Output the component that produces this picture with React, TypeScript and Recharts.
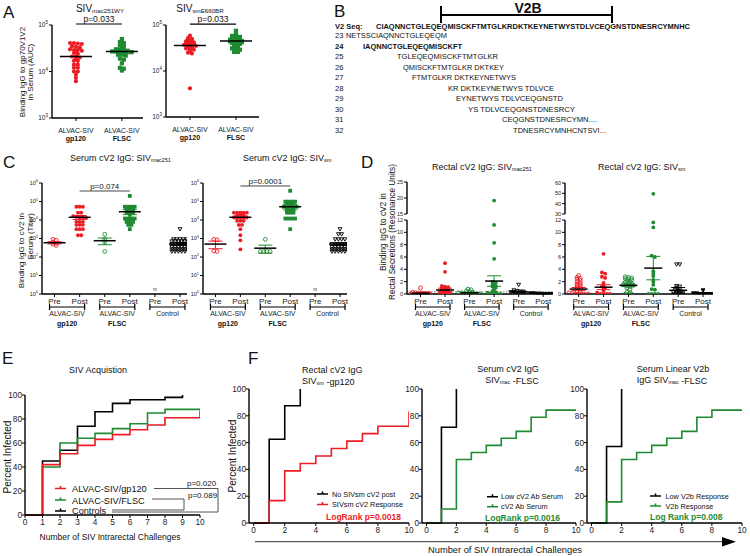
import React from 'react';
import { ScatterChart, Scatter, XAxis, YAxis, ErrorBar, ReferenceLine, LineChart, Line } from 'recharts';

const FONT = '"Liberation Sans", Arial, sans-serif';
const RED = '#ec1c24';
const GREEN = '#1f8a32';
const INK = '#111';

// ---- A: serum IgG to gp70V1V2 (AUC)
const aCategories = ['gp120', 'FLSC'];
const aMacGp120 = [41000, 41000, 40000, 39000, 35000, 34000, 33000, 30000, 29000, 29000, 28000, 27000, 25000, 24000, 21000, 21000, 20000, 19000, 17000, 17000, 14000, 14000, 12000, 12000, 10000, 10000, 8600, 7300, 6200];
const aMacFlsc = [50000, 43000, 41000, 36000, 34000, 33000, 30000, 29000, 29000, 28000, 27000, 27000, 27000, 26000, 26000, 26000, 25000, 25000, 23000, 23000, 22000, 19000, 18000, 15000, 12000, 11500, 10500];
const aMacMedians = [21000, 27000];
const aSmGp120 = [59000, 52000, 50000, 48000, 46000, 44000, 43000, 42000, 40000, 39000, 38000, 37000, 37000, 36000, 35000, 34000, 33000, 31000, 30000, 29000, 27000, 25000, 24000, 4200];
const aSmFlsc = [75000, 64000, 58000, 56000, 55000, 52000, 50000, 49000, 48000, 46000, 45000, 45000, 44000, 44000, 43000, 42000, 41000, 40000, 39000, 37000, 35000, 34000, 31000, 30000, 29000, 26000, 26000];
const aSmMedians = [36000, 45000];

// ---- C / D shared category labels
const prePost = ['Pre', 'Post', 'Pre', 'Post', 'Pre', 'Post'];
const vaccineTop = ['ALVAC-SIV', 'ALVAC-SIV', 'Control'];
const vaccineSub = ['gp120', 'FLSC', ''];

// ---- C: serum cV2 titers
const cMacGp120Pre = [900, 800, 650, 550, 500, 420];
const cMacGp120Post = [52000, 52000, 52000, 25000, 25000, 16000, 15000, 14000, 14000, 13000, 8000, 8000, 8000, 5500, 5500, 5500, 3200, 3200, 3200, 1500, 1500];
const cMacFlscPre = [1700, 950, 620, 200];
const cMacFlscPost = [200000, 52000, 52000, 52000, 52000, 35000, 35000, 35000, 25000, 25000, 25000, 19000, 12000, 12000, 12000, 12000, 8000, 8000, 8000, 5500, 5500, 3200];
const cMacCtrlPost = [3200, 900, 900, 900, 900, 900, 700, 700, 700, 700, 700, 700, 500, 500, 500, 500, 500, 500, 350, 350, 350, 350, 350, 350, 260, 260, 260, 260, 260, 260, 200, 200, 200, 200, 200, 200];
const cMacMeans = [590, 14000, 760, 28000, 0, 500];
const cMacSem = [80, 3500, 300, 8500, 0, 60];

const cSmGp120Pre = [900, 850, 210, 200];
const cSmGp120Post = [25000, 25000, 25000, 25000, 25000, 18000, 18000, 18000, 14000, 14000, 14000, 14000, 14000, 9000, 9000, 9000, 5400, 5400, 3200, 1500, 800, 260];
const cSmFlscPre = [900, 200, 200, 200, 200];
const cSmFlscPost = [380000, 98000, 98000, 98000, 98000, 73000, 73000, 73000, 52000, 52000, 52000, 52000, 52000, 35000, 35000, 35000, 25000, 25000, 25000, 12000, 12000, 12000, 12000, 3200];
const cSmCtrlPost = [3200, 1700, 1700, 900, 900, 900, 900, 500, 500, 500, 500, 500, 500, 350, 350, 350, 350, 350, 350, 260, 260, 260, 260, 260, 260, 200, 200, 200, 200, 200, 200];
const cSmMeans = [500, 14000, 300, 52000, 0, 500];
const cSmSem = [220, 2500, 140, 17000, 0, 60];

// ---- D: rectal cV2 (resonance units)
const dMacGp120Pre = [1.0, 0.3, 0.2, 0.2, 0.15, 0.1, 0.1, 0.05, 0.05, 0, 0, 0, 0, 0];
const dMacGp120Post = [5.0, 3.6, 1.3, 1.2, 1.1, 1.0, 0.9, 0.8, 0.7, 0.6, 0.5, 0.4, 0.3, 0.2, 0.2, 0.1, 0.1, 0, 0];
const dMacFlscPre = [0.8, 0.7, 0.5, 0.4, 0.3, 0.2, 0.2, 0.1, 0.1, 0.05, 0, 0, 0];
const dMacFlscPost = [19.2, 11.2, 8.3, 5.7, 2.0, 1.8, 1.5, 1.3, 1.2, 1.0, 0.8, 0.5, 0.3, 0.2, 0.1, 0, 0, 0];
const dMacCtrlPre = [1.5, 0.6, 0.5, 0.4, 0.4, 0.3, 0.3, 0.2, 0.2, 0.1, 0.1, 0];
const dMacCtrlPost = [0.1, 0.1, 0.05, 0.05, 0, 0, 0, 0, 0];
const dMacMeans = [0.12, 0.65, 0.2, 2.1, 0.35, 0.04];
const dMacSem = [0.07, 0.3, 0.08, 0.85, 0.12, 0.02];

const dSmGp120Pre = [3.0, 2.7, 2.5, 2.4, 2.2, 2.0, 1.8, 1.6, 1.5, 1.3, 1.2, 1.0, 0.8, 0.5, 0.3, 0.2, 0.1, 0, 0, 0, 0, 0];
const dSmGp120Post = [6.5, 3.5, 3.3, 2.8, 2.6, 1.8, 1.5, 1.2, 1.0, 0.8, 0.5, 0.2, 0, 0, 0, 0];
const dSmFlscPre = [2.8, 2.7, 2.6, 2.5, 2.4, 2.3, 2.2, 2.0, 1.9, 1.8, 1.7, 1.6, 1.5, 1.5, 1.4, 1.3, 1.2, 1.0, 0.8, 0.3, 0.2, 0, 0, 0];
const dSmFlscPost = [49.5, 11.6, 10.8, 6.2, 6.0, 3.7, 3.3, 2.9, 2.3, 2.0, 1.5, 0.8, 0.7, 0, 0, 0, 0];
const dSmCtrlPre = [4.8, 4.8, 1.3, 1.2, 1.0, 0.8, 0.6, 0.5, 0.4, 0.3, 0.2, 0.2, 0.1, 0];
const dSmCtrlPost = [0.6, 0.1, 0.1, 0, 0, 0, 0, 0];
const dSmMeans = [0.8, 1.1, 1.4, 4.2, 0.6, 0.1];
const dSmSem = [0.25, 0.4, 0.2, 1.9, 0.45, 0.05];

// ---- E: percent infected by challenge number (index = challenge)
const eGp120 = [0, 42, 51, 58, 63, 67, 71, 75, 81, 81, 81];
const eGp120End = 87;
const eFlsc = [0, 40, 60, 64, 68, 72, 76, 85, 88, 88, 88];
const eControls = [0, 45, 54, 74, 86, 93, 96, 96, 98, 100];

// ---- F
const f1NoResponse = [0, 62.5, 87.5, 100];
const f1Response = [0, 16.7, 38.9, 44.4, 50, 55.6, 61.1, 66.7, 72.2, 72.2, 72.2];
const f1ResponseEnd = 83.3;
const f2Low = [0, 71.4, 100];
const f2Ab = [0, 10.5, 47.4, 52.6, 57.9, 63.2, 68.4, 78.9, 84.2, 84.2, 84.2];
const f3Low = [0, 57.1, 100];
const f3V2b = [0, 15.8, 47.4, 52.6, 57.9, 63.2, 68.4, 78.9, 84.2, 84.2, 84.2];

// ---- B
const v2Seq = 'CIAQNNCTGLEQEQMISCKFTMTGLKRDKTKEYNETWYSTDLVCEQGNSTDNESRCYMNHC';
const peptideIds = ['23', '24', '25', '26', '27', '28', '29', '30', '31', '32'];
const peptideSeqs = [
  'NETSSCIAQNNCTGLEQEQM', 'IAQNNCTGLEQEQMISCKFT', 'TGLEQEQMISCKFTMTGLKR', 'QMISCKFTMTGLKR DKTKEY',
  'FTMTGLKR DKTKEYNETWYS', 'KR DKTKEYNETWYS TDLVCE', 'EYNETWYS TDLVCEQGNSTD', 'YS TDLVCEQGNSTDNESRCY',
  'CEQGNSTDNESRCYMN....', 'TDNESRCYMNHCNTSVI...',
];

type Kind = 'circle' | 'square' | 'tri';
interface Grp { pos: number; values: number[]; color: string; kind: Kind; filled: boolean; mean?: number; sem?: number }

const axisStyle = { stroke: '#000', strokeWidth: 1.4 };
const tickStyle = { stroke: '#000', strokeWidth: 1 };

// simple beeswarm: values that fall in the same bin are spread sideways
function swarm(values: number[], center: number, log: boolean, bin: number, gap: number) {
  const t = (v: number) => (log ? Math.log10(v) : v);
  const sorted = [...values].sort((a, b) => b - a);
  const rows: number[][] = [];
  for (const v of sorted) {
    const last = rows[rows.length - 1];
    if (last && Math.abs(t(last[0]) - t(v)) < bin) last.push(v);
    else rows.push([v]);
  }
  const pts: { x: number; y: number }[] = [];
  rows.forEach((row) => row.forEach((v, i) => pts.push({ x: center + (i - (row.length - 1) / 2) * gap, y: v })));
  return pts;
}

const markerShape = (kind: Kind, color: string, filled: boolean, r: number) => (p: any) => {
  const { cx, cy } = p;
  if (cx == null || cy == null) return <g />;
  const fill = filled ? color : 'none';
  if (kind === 'square') return <rect x={cx - r} y={cy - r} width={2 * r} height={2 * r} fill={fill} stroke={color} strokeWidth={filled ? 0 : 0.9} />;
  if (kind === 'tri') return <path d={`M${cx - r},${cy - r * 0.8}L${cx + r},${cy - r * 0.8}L${cx},${cy + r}Z`} fill={fill} stroke={color} strokeWidth={0.9} />;
  return <circle cx={cx} cy={cy} r={r} fill={fill} stroke={color} strokeWidth={filled ? 0 : 0.9} />;
};

const meanShape = (hw: number) => (p: any) =>
  p.cx == null ? <g /> : <line x1={p.cx - hw} x2={p.cx + hw} y1={p.cy} y2={p.cy} stroke="#000" strokeWidth={1.5} />;

const powTick = (fs: number) => (p: any) => {
  const e = Math.round(Math.log10(p.payload.value));
  return (
    <text x={p.x} y={p.y} dy={fs * 0.35} textAnchor="end" fontSize={fs} fill="#222" fontFamily={FONT}>
      10<tspan dy={-fs * 0.45} fontSize={fs * 0.7}>{e}</tspan>
    </text>
  );
};

const numTick = (fs: number) => (p: any) => (
  <text x={p.x} y={p.y} dy={fs * 0.35} textAnchor="end" fontSize={fs} fill="#222" fontFamily={FONT}>{p.payload.value}</text>
);

const alvacTick = (p: any) => (
  <g fontFamily={FONT}>
    <text x={p.x} y={p.y + 12} textAnchor="middle" fontSize={7} fill="#222">ALVAC-SIV</text>
    <text x={p.x} y={p.y + 20} textAnchor="middle" fontSize={7} fontWeight="bold" fill="#111">{aCategories[p.index]}</text>
  </g>
);

const prePostTick = (step: number, ntIndex: number) => (p: any) => {
  const { x, y, index } = p;
  const parts: React.ReactNode[] = [
    <text key="l" x={x} y={y + 6.5} textAnchor="middle" fontSize={8} fill="#222">{prePost[index]}</text>,
  ];
  if (index === ntIndex) parts.push(<text key="nt" x={x} y={y - 6} textAnchor="middle" fontSize={4.5} fill="#333">nt</text>);
  if (index % 2 === 1) {
    const g = (index - 1) / 2;
    const x0 = x - step - 5;
    const x1 = x + 5;
    const by = y + 10;
    parts.push(<path key="b" d={`M${x0},${by - 3}V${by + 3}M${x0},${by}H${x1}M${x1},${by - 3}V${by + 3}`} stroke="#000" strokeWidth={1.2} fill="none" />);
    parts.push(<text key="g" x={(x0 + x1) / 2} y={by + 8.5} textAnchor="middle" fontSize={7} fill="#222">{vaccineTop[g]}</text>);
    if (vaccineSub[g]) parts.push(<text key="s" x={(x0 + x1) / 2} y={by + 19} textAnchor="middle" fontSize={7} fontWeight="bold" fill="#111">{vaccineSub[g]}</text>);
  }
  return <g fontFamily={FONT}>{parts}</g>;
};

interface PlotProps {
  left: number; top: number; plotW: number; plotH: number; ml: number; mt: number; mb: number;
  xDomain: [number, number]; xTicks?: number[]; xTick?: any; hideX?: boolean;
  yDomain: [number, number]; yTicks: number[]; yTick: any; log?: boolean;
  groups: Grp[]; gap: number; bin: number; r: number; hw: number; cap: number;
  children?: React.ReactNode;
}

function DotPlot(p: PlotProps) {
  const mr = 4;
  const pb = p.hideX ? 5 : 0;
  const inRange = (v: number) => v >= p.yDomain[0] && v <= p.yDomain[1];
  return (
    <div style={{ position: 'absolute', left: p.left - p.ml, top: p.top - p.mt }}>
      <ScatterChart width={p.ml + p.plotW + mr} height={p.mt + p.plotH + p.mb + pb} margin={{ top: p.mt, right: mr, bottom: pb, left: 0 }}>
        <XAxis type="number" dataKey="x" domain={p.xDomain} ticks={p.xTicks} interval={0} allowDataOverflow hide={p.hideX}
          height={p.hideX ? 0 : p.mb} tick={p.xTick} tickSize={3} tickMargin={0} axisLine={axisStyle} tickLine={tickStyle} />
        <YAxis type="number" dataKey="y" scale={p.log ? 'log' : 'linear'} domain={p.yDomain} ticks={p.yTicks} interval={0}
          allowDataOverflow width={p.ml} tick={p.yTick} tickSize={3} tickMargin={1} axisLine={axisStyle} tickLine={tickStyle} />
        {p.children}
        {p.groups.map((g, i) => (
          <Scatter key={`pts${i}`} data={swarm(g.values.filter(inRange), g.pos, !!p.log, p.bin, p.gap)}
            shape={markerShape(g.kind, g.color, g.filled, p.r)} isAnimationActive={false} />
        ))}
        {p.groups.filter((g) => g.mean).map((g, i) => (
          <Scatter key={`mean${i}`} data={[{ x: g.pos, y: g.mean, err: g.sem ?? 0 }]} shape={meanShape(p.hw)} isAnimationActive={false}>
            {g.sem ? <ErrorBar dataKey="err" direction="y" width={p.cap} stroke={g.color} strokeWidth={1} /> : null}
          </Scatter>
        ))}
      </ScatterChart>
    </div>
  );
}

const steps = (ys: number[], end?: number) => {
  const pts = ys.map((y, i) => ({ x: i, y }));
  if (end !== undefined) pts.push({ x: ys.length - 1, y: end });
  return pts;
};

interface SurvProps {
  left: number; top: number; plotW: number; plotH: number; ml: number;
  xDomain: [number, number]; xTicks: number[];
  series: { pts: { x: number; y: number }[]; color: string }[];
}

function Survival(p: SurvProps) {
  const mt = 6, mb = 16, mr = 6;
  return (
    <div style={{ position: 'absolute', left: p.left - p.ml, top: p.top - mt }}>
      <LineChart width={p.ml + p.plotW + mr} height={mt + p.plotH + mb} margin={{ top: mt, right: mr, bottom: 0, left: 0 }}>
        <XAxis type="number" dataKey="x" domain={p.xDomain} ticks={p.xTicks} interval={0} allowDataOverflow height={mb}
          tickSize={3} tickMargin={1} axisLine={axisStyle} tickLine={tickStyle} tick={{ fontSize: 8.3, fill: '#222', fontFamily: FONT }} />
        <YAxis type="number" domain={[0, 100]} ticks={[0, 20, 40, 60, 80, 100]} interval={0} width={p.ml}
          tickSize={3} tickMargin={0} axisLine={axisStyle} tickLine={tickStyle} tick={numTick(8.3)} />
        {p.series.map((s, i) => (
          <Line key={i} data={s.pts} dataKey="y" type="stepAfter" stroke={s.color} strokeWidth={1.6} dot={false} isAnimationActive={false} />
        ))}
      </LineChart>
    </div>
  );
}

const groupsFrom = (vals: number[][], means: number[], sems: number[], kinds: [Kind, boolean][]): Grp[] => {
  const colors = [RED, RED, GREEN, GREEN, '#000', '#000'];
  return vals.map((v, i) => ({ pos: i + 1, values: v, color: colors[i], kind: kinds[i][0], filled: kinds[i][1], mean: means[i], sem: sems[i] }))
    .filter((g) => g.values.length > 0);
};

const Sub = ({ children }: { children: React.ReactNode }) => <tspan fontSize="0.62em" dy="0.25em">{children}</tspan>;

function VText({ x, y, s, a = 'middle', children }: any) {
  return <text transform={`translate(${x},${y}) rotate(-90)`} textAnchor={a} fontSize={s} fill={INK}>{children}</text>;
}

function LegendKey({ x, y, color }: { x: number; y: number; color: string }) {
  return <path d={`M${x},${y}H${x + 11}M${x + 5.5},${y - 2.5}V${y}`} stroke={color} strokeWidth={1.6} fill="none" />;
}

export default function App() {
  const cKinds: [Kind, boolean][] = [['circle', false], ['circle', true], ['circle', false], ['square', true], ['tri', false], ['tri', false]];
  const dKinds: [Kind, boolean][] = [['circle', false], ['circle', true], ['circle', false], ['circle', true], ['tri', false], ['tri', true]];

  const aMacGroups: Grp[] = [
    { pos: 1, values: aMacGp120, color: RED, kind: 'circle', filled: true, mean: aMacMedians[0] },
    { pos: 2, values: aMacFlsc, color: GREEN, kind: 'square', filled: true, mean: aMacMedians[1] },
  ];
  const aSmGroups: Grp[] = [
    { pos: 1, values: aSmGp120, color: RED, kind: 'circle', filled: true, mean: aSmMedians[0] },
    { pos: 2, values: aSmFlsc, color: GREEN, kind: 'square', filled: true, mean: aSmMedians[1] },
  ];
  const cMacGroups = groupsFrom([cMacGp120Pre, cMacGp120Post, cMacFlscPre, cMacFlscPost, [], cMacCtrlPost], cMacMeans, cMacSem, cKinds);
  const cSmGroups = groupsFrom([cSmGp120Pre, cSmGp120Post, cSmFlscPre, cSmFlscPost, [], cSmCtrlPost], cSmMeans, cSmSem, cKinds);
  const dMacGroups = groupsFrom([dMacGp120Pre, dMacGp120Post, dMacFlscPre, dMacFlscPost, dMacCtrlPre, dMacCtrlPost], dMacMeans, dMacSem, dKinds);
  const dSmGroups = groupsFrom([dSmGp120Pre, dSmGp120Post, dSmFlscPre, dSmFlscPost, dSmCtrlPre, dSmCtrlPost], dSmMeans, dSmSem, dKinds);
  const noMeans = (gs: Grp[]) => gs.map((g) => ({ ...g, mean: undefined, sem: undefined }));

  const logTicks = [1, 10, 100, 1000, 10000, 100000, 1000000];
  const cDom: [number, number] = [0.5, 6.28];
  const dDom: [number, number] = [0.45, 6.4];
  const sixTicks = [1, 2, 3, 4, 5, 6];
  const peptideX = [346, 363, 397, 403, 412, 448, 456, 468, 502, 513];
  const peptideW = [101, 99, 101, 101, 104, 106, 107, 107, 95, 93];

  return (
    <div style={{ position: 'absolute', left: 0, top: 0, width: 750, height: 556, background: '#fff', overflow: 'hidden', fontFamily: FONT }}>
      {/* A */}
      <DotPlot left={52} top={25} plotW={91} plotH={93} ml={52} mt={12} mb={26} xDomain={[0.48, 2.46]} xTicks={[1, 2]} xTick={alvacTick}
        yDomain={[1000, 100000]} yTicks={[1000, 10000, 100000]} yTick={powTick(6.5)} log groups={aMacGroups} gap={0.085} bin={0.03} r={2.1} hw={16} cap={0}>
        <ReferenceLine segment={[{ x: 1, y: 105000 }, { x: 2, y: 105000 }]} ifOverflow="visible" stroke="#000" strokeWidth={1.2}
          label={{ value: 'p=0.033', position: 'top', fontSize: 8.5, fill: '#111', offset: 2 }} />
      </DotPlot>
      <DotPlot left={166} top={25} plotW={93} plotH={92} ml={52} mt={12} mb={26} xDomain={[0.48, 2.5]} xTicks={[1, 2]} xTick={alvacTick}
        yDomain={[1000, 100000]} yTicks={[1000, 10000, 100000]} yTick={powTick(6.5)} log groups={aSmGroups} gap={0.085} bin={0.03} r={2.1} hw={16} cap={0}>
        <ReferenceLine segment={[{ x: 1, y: 105000 }, { x: 2, y: 105000 }]} ifOverflow="visible" stroke="#000" strokeWidth={1.2}
          label={{ value: 'p=0.033', position: 'top', fontSize: 8.5, fill: '#111', offset: 2 }} />
      </DotPlot>

      {/* C */}
      <DotPlot left={42} top={183} plotW={145} plotH={111} ml={30} mt={10} mb={45} xDomain={cDom} xTicks={sixTicks} xTick={prePostTick(145 / (cDom[1] - cDom[0]), 4)}
        yDomain={[1, 1000000]} yTicks={logTicks} yTick={powTick(5.5)} log groups={cMacGroups} gap={0.13} bin={0.1} r={1.9} hw={11} cap={7}>
        <ReferenceLine segment={[{ x: 2, y: 370000 }, { x: 4, y: 370000 }]} ifOverflow="visible" stroke="#444" strokeWidth={1}
          label={{ value: 'p=0.074', position: 'top', fontSize: 8, fill: '#111', offset: 2 }} />
      </DotPlot>
      <DotPlot left={203} top={183} plotW={144} plotH={111} ml={30} mt={10} mb={45} xDomain={cDom} xTicks={sixTicks} xTick={prePostTick(144 / (cDom[1] - cDom[0]), 4)}
        yDomain={[1, 1000000]} yTicks={logTicks} yTick={powTick(5.5)} log groups={cSmGroups} gap={0.13} bin={0.1} r={1.9} hw={11} cap={7}>
        <ReferenceLine segment={[{ x: 2, y: 690000 }, { x: 4, y: 690000 }]} ifOverflow="visible" stroke="#444" strokeWidth={1}
          label={{ value: 'p=0.0001', position: 'top', fontSize: 8, fill: '#111', offset: 2 }} />
      </DotPlot>

      {/* D: broken axis = two stacked plots */}
      <DotPlot left={407} top={182} plotW={146} plotH={32} ml={20} mt={4} mb={0} hideX xDomain={dDom}
        yDomain={[15, 25]} yTicks={[15, 20, 25]} yTick={numTick(5.5)} groups={noMeans(dMacGroups)} gap={0.13} bin={0.25} r={1.9} hw={9} cap={7} />
      <DotPlot left={407} top={220} plotW={146} plotH={74} ml={20} mt={4} mb={45} xDomain={dDom} xTicks={sixTicks} xTick={prePostTick(146 / (dDom[1] - dDom[0]), -1)}
        yDomain={[0, 12]} yTicks={[0, 2, 4, 6, 8, 10, 12]} yTick={numTick(5.5)} groups={dMacGroups} gap={0.13} bin={0.25} r={1.9} hw={9} cap={7}>
        <ReferenceLine y={0.35} stroke="#777" strokeDasharray="1.5 1.5" strokeWidth={1} />
      </DotPlot>
      <DotPlot left={565} top={183} plotW={148} plotH={31} ml={20} mt={4} mb={0} hideX xDomain={dDom}
        yDomain={[30, 60]} yTicks={[30, 40, 50, 60]} yTick={numTick(5.5)} groups={noMeans(dSmGroups)} gap={0.13} bin={0.25} r={1.9} hw={9} cap={7} />
      <DotPlot left={565} top={220} plotW={148} plotH={74} ml={20} mt={4} mb={45} xDomain={dDom} xTicks={sixTicks} xTick={prePostTick(148 / (dDom[1] - dDom[0]), -1)}
        yDomain={[0, 12]} yTicks={[0, 2, 4, 6, 8, 10, 12]} yTick={numTick(5.5)} groups={dSmGroups} gap={0.13} bin={0.25} r={1.9} hw={9} cap={7} />

      {/* E */}
      <Survival left={25} top={395} plotW={175} plotH={120} ml={22} xDomain={[0, 10]} xTicks={[0, 1, 2, 3, 4, 5, 6, 7, 8, 9, 10]}
        series={[{ pts: steps(eControls), color: '#000' }, { pts: steps(eFlsc), color: GREEN }, { pts: steps(eGp120, eGp120End), color: RED }]} />

      {/* F */}
      <Survival left={249} top={389} plotW={160} plotH={134} ml={22} xDomain={[-0.3, 10]} xTicks={[0, 2, 4, 6, 8, 10]}
        series={[{ pts: steps(f1NoResponse), color: '#000' }, { pts: steps(f1Response, f1ResponseEnd), color: RED }]} />
      <Survival left={422} top={389} plotW={154} plotH={134} ml={22} xDomain={[-0.3, 10]} xTicks={[0, 2, 4, 6, 8, 10]}
        series={[{ pts: steps(f2Low), color: '#000' }, { pts: steps(f2Ab), color: GREEN }]} />
      <Survival left={587} top={389} plotW={155} plotH={134} ml={22} xDomain={[-0.3, 10]} xTicks={[0, 2, 4, 6, 8, 10]}
        series={[{ pts: steps(f3Low), color: '#000' }, { pts: steps(f3V2b), color: GREEN }]} />

      {/* annotations */}
      <svg width={750} height={556} style={{ position: 'absolute', left: 0, top: 0, pointerEvents: 'none' }} fontFamily={FONT}>
        <g fontSize={17} fill={INK}>
          <text x={3} y={18}>A</text>
          <text x={334} y={17}>B</text>
          <text x={3} y={168}>C</text>
          <text x={361} y={168}>D</text>
          <text x={2} y={364}>E</text>
          <text x={248} y={364}>F</text>
        </g>

        {/* titles */}
        <text x={100} y={11.5} textAnchor="middle" fontSize={10} fill={INK}>SIV<Sub>mac251WY</Sub></text>
        <text x={200} y={11.5} textAnchor="middle" fontSize={10} fill={INK}>SIV<Sub>smE660BR</Sub></text>
        <text x={70} y={161} fontSize={9} fill={INK}>Serum cV2 IgG: SIV<Sub>mac251</Sub></text>
        <text x={243} y={161} fontSize={9} fill={INK}>Serum cV2 IgG: SIV<Sub>sm</Sub></text>
        <text x={432} y={169.5} fontSize={9} fill={INK}>Rectal cV2 IgG: SIV<Sub>mac251</Sub></text>
        <text x={598} y={169.5} fontSize={9} fill={INK}>Rectal cV2 IgG: SIV<Sub>sm</Sub></text>
        <text x={98} y={372.5} textAnchor="middle" fontSize={9} fill={INK}>SIV Acquistion</text>
        <text x={302} y={372.5} fontSize={9} fill={INK}>Rectal cV2 IgG</text>
        <text x={302} y={384} fontSize={9} fill={INK}>SIV<Sub>sm</Sub> -gp120</text>
        <text x={508} y={371.5} textAnchor="middle" fontSize={9} fill={INK}>Serum cV2 IgG</text>
        <text x={512} y={383} textAnchor="middle" fontSize={9} fill={INK}>SIV<Sub>mac</Sub> -FLSC</text>
        <text x={673} y={371.5} textAnchor="middle" fontSize={9} fill={INK}>Serum Linear V2b</text>
        <text x={672} y={383} textAnchor="middle" fontSize={9} fill={INK}>IgG SIV<Sub>mac</Sub> -FLSC</text>

        {/* y-axis titles */}
        <VText x={25} y={72} s={8}>Binding IgG to gp70V1V2</VText>
        <VText x={33} y={72} s={8}>in Serum (AUC)</VText>
        <VText x={24} y={213} s={8} a="end">Binding IgG to cV2 in</VText>
        <VText x={33} y={213} s={8} a="end">Serum (Titer)</VText>
        <VText x={386} y={232} s={8.3}>Binding IgG to cV2 in</VText>
        <VText x={395} y={232} s={8.3}>Rectal Secretions (Resonance Units)</VText>
        <VText x={11} y={457} s={10}>Percent Infected</VText>
        <VText x={236} y={456} s={10}>Percent Infected</VText>

        {/* B */}
        <path d="M441,6V23M441,15H612M612,6V23" stroke="#000" strokeWidth={2} fill="none" />
        <text x={528} y={13} textAnchor="middle" fontSize={14} fontWeight="bold" fill={INK}>V2B</text>
        <text x={335} y={28.5} fontSize={7.5} fontWeight="bold" fill={INK}>V2 Seq:</text>
        <text x={376} y={28.5} fontSize={7.5} fontWeight="bold" fill={INK} textLength={314} lengthAdjust="spacingAndGlyphs">{v2Seq}</text>
        {peptideIds.map((id, i) => (
          <g key={id} fontSize={7.5} fill={INK} fontWeight={id === '24' ? 'bold' : undefined}>
            <text x={335} y={38 + i * 10.5}>{id}</text>
            <text x={peptideX[i]} y={38 + i * 10.5} textLength={peptideW[i]} lengthAdjust="spacingAndGlyphs">{peptideSeqs[i]}</text>
          </g>
        ))}

        {/* E legend + p-values */}
        <LegendKey x={55} y={488.5} color={RED} />
        <LegendKey x={55} y={500} color={GREEN} />
        <LegendKey x={55} y={511} color="#000" />
        <g fontSize={9.2} fill={INK}>
          <text x={72} y={492}>ALVAC-SIV/gp120</text>
          <text x={72} y={503.5}>ALVAC-SIV/FLSC</text>
          <text x={72} y={514}>Controls</text>
        </g>
        <path d="M154,488.5H218V512H112" stroke="#555" strokeWidth={1} fill="none" />
        <path d="M152,499H184V510H112" stroke="#555" strokeWidth={1} fill="none" />
        <text x={187} y={486} fontSize={8} fill={INK}>p=0.020</text>
        <text x={188} y={498} fontSize={8} fill={INK}>p=0.089</text>
        <text x={110} y={539.5} textAnchor="middle" fontSize={8.5} fill={INK}>Number of SIV Intrarectal Challenges</text>

        {/* F legends */}
        <LegendKey x={317} y={494} color="#000" />
        <LegendKey x={317} y={504.5} color={RED} />
        <text x={332} y={496.5} fontSize={7.3} fill={INK}>No SIVsm cV2 post</text>
        <text x={332} y={507} fontSize={7.3} fill={INK}>SIVsm cV2 Response</text>
        <text x={326} y={520} fontSize={8.5} fontWeight="bold" fill={RED}>LogRank p=0.0018</text>
        <LegendKey x={487} y={496.7} color="#000" />
        <LegendKey x={487} y={506.7} color={GREEN} />
        <text x={501} y={499.2} fontSize={7.3} fill={INK}>Low cV2 Ab Serum</text>
        <text x={501} y={509.2} fontSize={7.3} fill={INK}>cV2 Ab Serum</text>
        <text x={485} y={520.5} fontSize={8.5} fontWeight="bold" fill={GREEN}>LogRank p=0.0016</text>
        <LegendKey x={650} y={496} color="#000" />
        <LegendKey x={650} y={506} color={GREEN} />
        <text x={665.5} y={498.5} fontSize={7.3} fill={INK}>Low V2b Response</text>
        <text x={665.5} y={508.5} fontSize={7.3} fill={INK}>V2b Response</text>
        <text x={650} y={520} fontSize={8.5} fontWeight="bold" fill={GREEN}>Log Rank p=0.008</text>

        <path d="M255,541.7H724" stroke="#333" strokeWidth={1} />
        <path d="M722,537L736,541.7L722,546.5Z" fill="#000" />
        <text x={505} y={553} textAnchor="middle" fontSize={9.3} fill={INK}>Number of SIV Intrarectal Challenges</text>
      </svg>
    </div>
  );
}
